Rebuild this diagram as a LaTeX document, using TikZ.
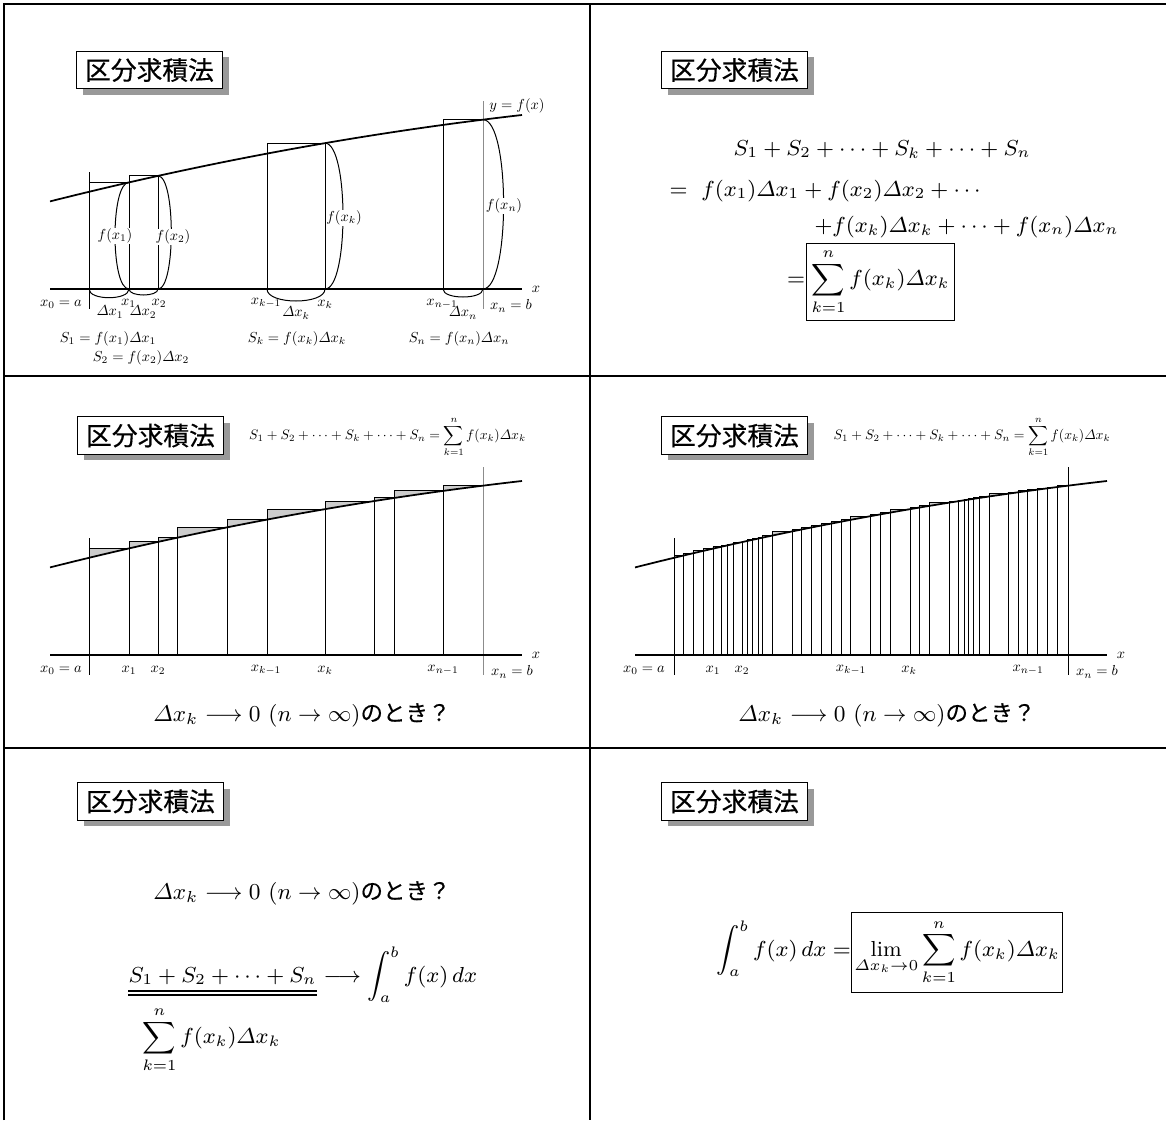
\RequirePackage{fix-cm}
\documentclass[tikz,border=0pt]{standalone}
\usepackage{amsmath,graphicx}
\usepackage{fontspec}
\newfontfamily\jpfont[FakeBold=0.4]{Noto Sans CJK JP}
\usetikzlibrary{shadows}
\newcommand{\mainsize}{\fontsize{8.7}{10.5}\selectfont}
\newcommand{\asksize}{\fontsize{9.1}{11}\selectfont}
\newcommand{\tm}[1]{\scalebox{0.58}{$#1$}}
\newcommand{\jpask}{\jpfont\fontsize{9}{10}\selectfont のとき？}

\begin{document}
\begin{tikzpicture}[
    x=0.4pt, y=-0.4pt,
    declare function={fy(\x)=-(87.6+25.2*((\x-50)/100)-1.46*((\x-50)/100)^2);},
    panelline/.style={line width=1pt},
    titlebox/.style={draw, thin, fill=white, inner sep=0pt,
        minimum width=58.4pt, minimum height=15pt,
        font=\jpfont\fontsize{10.3}{12}\selectfont,
        drop shadow={shadow xshift=2.4pt, shadow yshift=-2.4pt, fill=black!40, opacity=1}},
    curve/.style={line width=0.7pt},
    xaxis/.style={line width=0.5pt},
    excess/.style={fill=black!20},
    lbl/.style={inner sep=0.5pt},
    tag/.style={fill=white, inner sep=0.3pt},
    eqn/.style={inner sep=0pt, font=\mainsize},
    ask/.style={inner sep=0pt, font=\asksize},
    sumbox/.style={draw, thin, inner sep=2.2pt, font=\mainsize}]
    \useasboundingbox (0,0) rectangle (1166,1120);

    % panel frame
    \draw[panelline] (4,1120) -- (4,4) -- (1166,4);
    \draw[panelline] (590,4) -- (590,1120);
    \draw[panelline] (4,376) -- (1166,376);
    \draw[panelline] (4,748) -- (1166,748);

    \foreach \n/\px/\py in {t1/149.5/70, t2/734.5/70, t3/150.5/435.5, t4/734.5/435.5, t5/150.5/801.4, t6/734.5/801.4}
        \node[titlebox] (\n) at (\px,\py) {区分求積法};

    % panel 1
    \begin{scope}[shift={(0,289)}]
        \foreach \a/\b in {89/129, 129/158, 267/325, 443/483}
            \draw[thin] (\a,0) rectangle (\b,{fy(\b)});
        \draw[thin] (89,-117) -- (89,20);
        \draw[thin, black!45] (483,-188) -- (483,20);
        \draw[xaxis] (50,0) -- (522,0);
        \draw[curve] plot[domain=50:522, samples=60] (\x,{fy(\x)});
        \foreach \a/\b/\d in {89/129/8.7, 129/158/6, 267/325/12, 443/483/8}
            \draw[thin] (\a,0) .. controls (\a,{\d*4/3}) and (\b,{\d*4/3}) .. (\b,0);
        \foreach \p/\w in {129/-14, 158/13.3, 325/18, 483/20.6}
            \draw[thin] (\p,{fy(\p)}) .. controls ({\p+\w*4/3},{fy(\p)}) and ({\p+\w*4/3},0) .. (\p,0);
        \node[tag] (fx1) at (115,-53) {\tm{f(x_1)}};
        \node[tag] (fx2) at (173,-52) {\tm{f(x_2)}};
        \node[tag] (fxk) at (344,-71) {\tm{f(x_k)}};
        \node[tag] (fxn) at (504,-83) {\tm{f(x_n)}};
        \node[lbl] (yfx) at (517,-183) {\tm{y=f(x)}};
        \node[lbl] (ax1) at (536,0) {\tm{x}};
        \foreach \n/\px/\py/\t in {x0/61/15/x_0=a, x1/128.5/14/x_1, x2/159/14/x_2, xkm/266/14/x_{k-1},
                xk/325/15/x_k, xnm/442/15/x_{n-1}, xn/511/17/x_n=b,
                d1/110/23/\varDelta x_1, d2/143/23/\varDelta x_2, dk/296/24/\varDelta x_k, dn/463/24/\varDelta x_n}
            \node[lbl] (p1\n) at (\px,\py) {\tm{\t}};
        \node[lbl] (s1) at (108,50) {\tm{S_1=f(x_1)\varDelta x_1}};
        \node[lbl] (s2) at (141,69) {\tm{S_2=f(x_2)\varDelta x_2}};
        \node[lbl] (sk) at (297,50) {\tm{S_k=f(x_k)\varDelta x_k}};
        \node[lbl] (sn) at (459,50) {\tm{S_n=f(x_n)\varDelta x_n}};
    \end{scope}

    % panel 2
    \node[eqn, anchor=base west] (sum1) at (733,155) {$S_1+S_2+\cdots+S_k+\cdots+S_n$};
    \node[eqn, anchor=base west] (sum2) at (669,196) {$=\ f(x_1)\varDelta x_1+f(x_2)\varDelta x_2+\cdots$};
    \node[eqn, anchor=base west] (sum3) at (814,232) {$+f(x_k)\varDelta x_k+\cdots+f(x_n)\varDelta x_n$};
    \node[sumbox] (sig2) at (880.5,282) {$\displaystyle\sum_{k=1}^{n}f(x_k)\varDelta x_k$};
    \node[eqn, anchor=base east] (eq2) at (sig2.base west) {$=$};

    % panel 3
    \node[lbl] (f3) at (387.5,437) {\scalebox{0.55}{$S_1+S_2+\cdots+S_k+\cdots+S_n=\displaystyle\sum_{k=1}^{n}f(x_k)\varDelta x_k$}};
    \begin{scope}[shift={(0,655)}]
        \foreach \b [remember=\b as \a (initially 89)] in {129,158,177.6,227,267,325,374.4,394.4,443,483} {
            \fill[excess] (\a,{fy(\a)}) -- (\a,{fy(\b)}) -- (\b,{fy(\b)}) -- cycle;
            \draw[thin] (\a,0) rectangle (\b,{fy(\b)});
        }
        \draw[thin] (89,-117) -- (89,20);
        \draw[thin, black!45] (483,-188) -- (483,20);
        \draw[xaxis] (50,0) -- (522,0);
        \draw[curve] plot[domain=50:522, samples=60] (\x,{fy(\x)});
        \node[lbl] (ax3) at (536,0) {\tm{x}};
        \foreach \n/\px/\py/\t in {x0/61/15/x_0=a, x1/129/15/x_1, x2/158/15/x_2, xkm/266/15/x_{k-1},
                xk/325/15/x_k, xnm/443/15/x_{n-1}, xn/512/17/x_n=b}
            \node[lbl] (p3\n) at (\px,\py) {\tm{\t}};
    \end{scope}
    \node[ask] (q3) at (302,715) {$\varDelta x_k\longrightarrow 0\ (n\to\infty)$\jpask};

    % panel 4
    \node[lbl] (f4) at (972,437) {\scalebox{0.55}{$S_1+S_2+\cdots+S_k+\cdots+S_n=\displaystyle\sum_{k=1}^{n}f(x_k)\varDelta x_k$}};
    \begin{scope}[shift={(585,655)}]
        \foreach \b [remember=\b as \a (initially 89)] in {98.7,108.3,118.3,128.3,136,142,148,157.3,162,167.3,
                173.3,177.3,187.3,207.3,216.7,226.7,236.7,246.7,256.7,265.7,285.7,295.7,305.3,325,334.7,
                344.3,364,373.7,379,383.7,388.7,394,404,423.3,433,442.7,452.7,462.7,472.3,483} {
            \fill[excess] (\a,{fy(\a)}) -- (\a,{fy(\b)}) -- (\b,{fy(\b)}) -- cycle;
            \draw[thin] (\a,0) rectangle (\b,{fy(\b)});
        }
        \draw[thin] (89,-117) -- (89,20);
        \draw[thin] (483,-188) -- (483,20);
        \draw[xaxis] (50,0) -- (522,0);
        \draw[curve] plot[domain=50:522, samples=60] (\x,{fy(\x)});
        \node[lbl] (ax4) at (536,0) {\tm{x}};
        \foreach \n/\px/\py/\t in {x0/59/15/x_0=a, x1/128/15/x_1, x2/157/15/x_2, xkm/266/15/x_{k-1},
                xk/324/15/x_k, xnm/443/15/x_{n-1}, xn/512/17/x_n=b}
            \node[lbl] (p4\n) at (\px,\py) {\tm{\t}};
    \end{scope}
    \node[ask] (q4) at (887,715) {$\varDelta x_k\longrightarrow 0\ (n\to\infty)$\jpask};

    % panel 5
    \node[ask] (q5) at (302,893) {$\varDelta x_k\longrightarrow 0\ (n\to\infty)$\jpask};
    \node[eqn, anchor=base west] (num5) at (128,982) {$S_1+S_2+\cdots+S_n$};
    \node[eqn, anchor=base west] (int5) at ([xshift=2.5pt]num5.base east) {$\longrightarrow\displaystyle\int_a^b f(x)\,dx$};
    \draw[line width=0.5pt] ([yshift=-3.6pt]num5.base west) -- ([yshift=-3.6pt]num5.base east);
    \draw[line width=0.5pt] ([yshift=-5.2pt]num5.base west) -- ([yshift=-5.2pt]num5.base east);
    \node[eqn] (den5) at (211.5,1040) {$\displaystyle\sum_{k=1}^{n}f(x_k)\varDelta x_k$};

    % panel 6
    \node[sumbox, inner xsep=1pt, inner ysep=2.8pt] (lim6) at (957,952.2) {$\displaystyle\lim_{\varDelta x_k\to0}\sum_{k=1}^{n}f(x_k)\varDelta x_k$};
    \node[eqn, anchor=base east] (int6) at (lim6.base west) {$\displaystyle\int_a^b f(x)\,dx=$};
\end{tikzpicture}
\end{document}
